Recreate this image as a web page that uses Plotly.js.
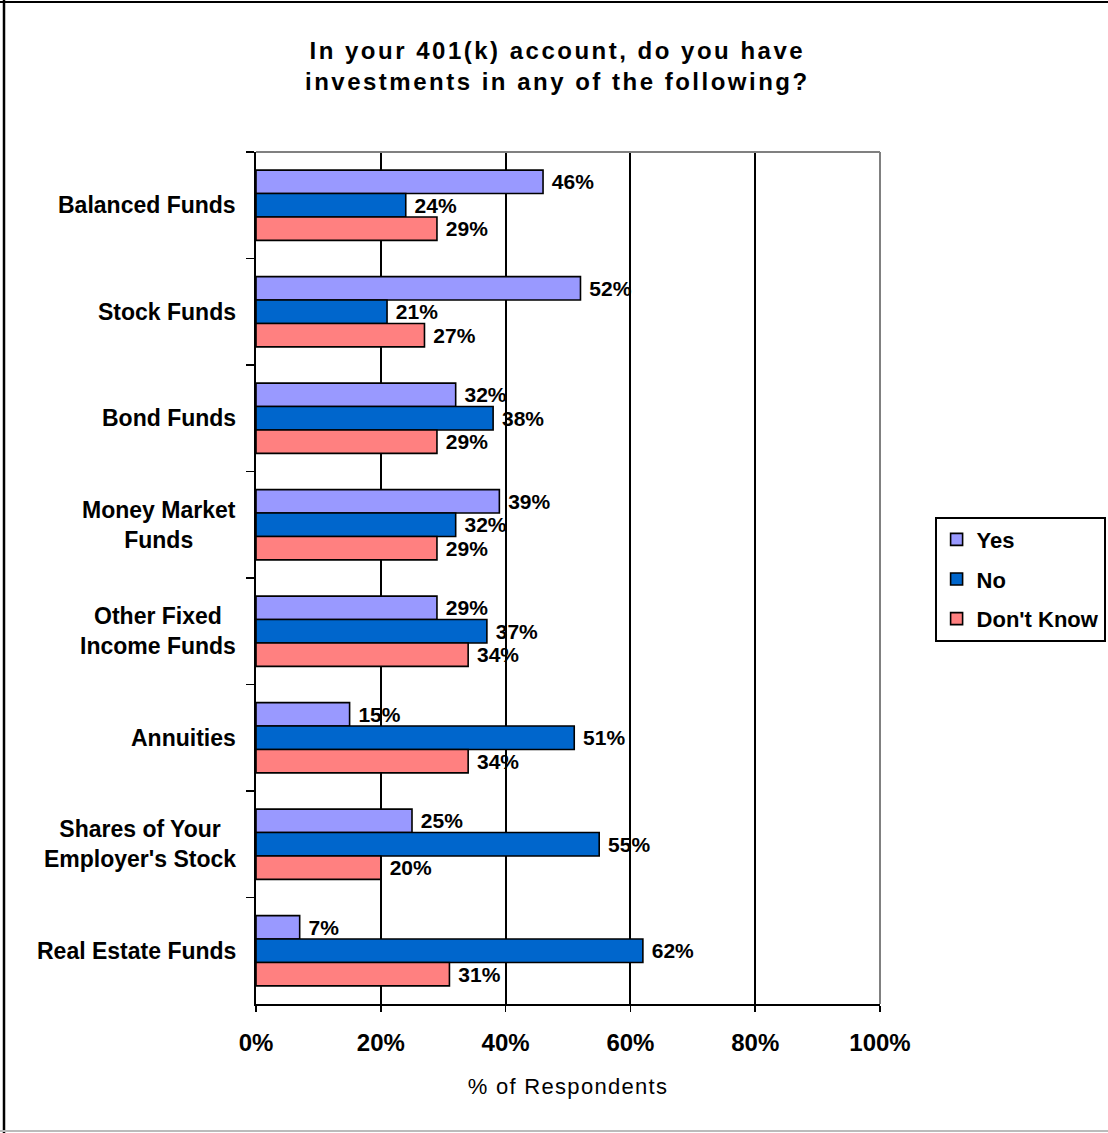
<!DOCTYPE html>
<html>
<head>
<meta charset="utf-8">
<script src="https://cdn.plot.ly/plotly-3.0.1.min.js"></script>
<style>
  html, body { margin: 0; padding: 0; background: #fff; }
  #chart { width: 1108px; height: 1133px; }
  .gtitle { letter-spacing: 2.5px; }
  .xtitle { letter-spacing: 1.3px; }
</style>
</head>
<body>
<div id="chart"></div>
<script>
// ---- Data ----
const categories = [
  "Balanced Funds",
  "Stock Funds",
  "Bond Funds",
  "Money Market<br>Funds",
  "Other Fixed<br>Income Funds",
  "Annuities",
  "Shares of Your<br>Employer's Stock",
  "Real Estate Funds"
];
const yesValues      = [46, 52, 32, 39, 29, 15, 25, 7];
const noValues       = [24, 21, 38, 32, 37, 51, 55, 62];
const dontKnowValues = [29, 27, 29, 29, 34, 34, 20, 31];
const seriesNames = ["Yes", "No", "Don't Know"];
const xTickVals = [0, 20, 40, 60, 80, 100];
const xTickText = ["0%", "20%", "40%", "60%", "80%", "100%"];
const titleText = "In your 401(k) account, do you have<br>investments in any of the following?";
const xAxisTitle = "% of Respondents";

// ---- Styling ----
const colors = ["#9999FF", "#0066CC", "#FF8080"];
const FONT = "Arial, 'Liberation Sans', Helvetica, sans-serif";

function makeTrace(name, values, color, group) {
  return {
    type: "bar",
    orientation: "h",
    name: name,
    y: categories,
    x: values,
    legendgroup: group,
    marker: { color: color, line: { color: "#000000", width: 1.6 } },
    text: values.map(v => "\u00a0" + v + "%"),
    textposition: "outside",
    constraintext: "none",
    cliponaxis: false,
    textfont: { family: FONT, size: 21, color: "#000000", weight: "bold" },
    hoverinfo: "skip"
  };
}

const traces = [
  makeTrace(seriesNames[0], yesValues, colors[0], "g1"),
  makeTrace(seriesNames[1], noValues, colors[1], "g2"),
  makeTrace(seriesNames[2], dontKnowValues, colors[2], "g3")
];

const labelAnnotations = categories.map(c => ({
  xref: "paper", yref: "y",
  x: (238 - 256) / 624, y: c,
  xanchor: "right", yanchor: "middle",
  align: "center",
  text: c,
  showarrow: false,
  font: { family: FONT, size: 23, color: "#000000", weight: "bold" }
}));

const shapes = [
  // plot area top/right border (gray)
  { type: "line", xref: "paper", yref: "paper", x0: 0, x1: 1.0, y0: 1, y1: 1,
    line: { color: "#808080", width: 2 }, layer: "above" },
  { type: "line", xref: "paper", yref: "paper", x0: 1, x1: 1, y0: 0, y1: 1,
    line: { color: "#808080", width: 2 }, layer: "above" },
  // outer chart frame
  { type: "line", xref: "paper", yref: "paper", x0: -0.42, x1: 1.40, y0: (1004 - 2) / 852, y1: (1004 - 2) / 852,
    line: { color: "#000000", width: 2 } },
  { type: "line", xref: "paper", yref: "paper", x0: (4 - 256) / 624, x1: (4 - 256) / 624, y0: -0.16, y1: 1.19,
    line: { color: "#000000", width: 2.5 } },
  { type: "line", xref: "paper", yref: "paper", x0: -0.42, x1: 1.40, y0: (1004 - 1131) / 852, y1: (1004 - 1131) / 852,
    line: { color: "#BBBBBB", width: 2 } }
];

const layout = {
  width: 1108,
  height: 1133,
  paper_bgcolor: "#ffffff",
  plot_bgcolor: "#ffffff",
  margin: { l: 256, r: 228, t: 152, b: 129, pad: 0, autoexpand: false },
  font: { family: FONT, color: "#000000" },
  title: {
    text: titleText,
    font: { family: FONT, size: 24, color: "#000000", weight: "bold" },
    x: 0.503, xanchor: "center", xref: "container",
    y: 1 - 58.5 / 1133, yanchor: "middle", yref: "container"
  },
  barmode: "group",
  bargap: 0.34,
  bargroupgap: 0,
  showlegend: true,
  legend: {
    x: (935 - 256) / 624, xanchor: "left",
    y: (1004 - 517) / 852, yanchor: "top",
    bordercolor: "#000000", borderwidth: 1.6,
    bgcolor: "#ffffff",
    font: { family: FONT, size: 22, color: "#000000", weight: "bold" },
    tracegroupgap: 8,
    traceorder: "grouped",
    itemclick: false
  },
  xaxis: {
    range: [0, 100],
    tickvals: xTickVals,
    ticktext: xTickText,
    tickfont: { family: FONT, size: 24, color: "#000000", weight: "bold" },
    ticks: "outside", ticklen: 6, tickwidth: 1.5, tickcolor: "#000000",
    ticklabelstandoff: 10,
    showline: true, linecolor: "#000000", linewidth: 2,
    showgrid: true, gridcolor: "#000000", gridwidth: 2,
    zeroline: false,
    fixedrange: true,
    title: {
      text: xAxisTitle,
      font: { family: FONT, size: 22, color: "#000000" },
      standoff: 24
    }
  },
  yaxis: {
    type: "category",
    categoryorder: "array",
    categoryarray: categories,
    autorange: "reversed",
    tickson: "boundaries",
    ticks: "outside", ticklen: 8, tickwidth: 1.5, tickcolor: "#000000",
    showticklabels: false,
    showline: true, linecolor: "#000000", linewidth: 2,
    showgrid: false,
    zeroline: false,
    fixedrange: true
  },
  annotations: labelAnnotations,
  shapes: shapes
};

Plotly.newPlot("chart", traces, layout, { staticPlot: true, displayModeBar: false });
</script>
</body>
</html>
